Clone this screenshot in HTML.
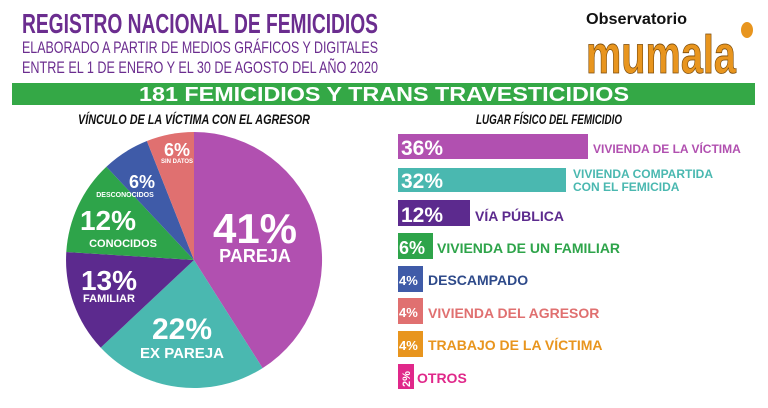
<!DOCTYPE html>
<html><head><meta charset="utf-8"><style>
body{margin:0;width:768px;height:403px;background:#fff;overflow:hidden;font-family:"Liberation Sans",sans-serif;}
</style></head><body>
<svg width="768" height="403" viewBox="0 0 768 403" xmlns="http://www.w3.org/2000/svg" font-family="Liberation Sans, sans-serif">
<text x="22" y="33" font-size="28" font-weight="bold" fill="#6b2d8f" textLength="356" lengthAdjust="spacingAndGlyphs">REGISTRO NACIONAL DE FEMICIDIOS</text>
<text x="22" y="53" font-size="17" fill="#6b2d8f" textLength="356" lengthAdjust="spacingAndGlyphs">ELABORADO A PARTIR DE MEDIOS GRÁFICOS Y DIGITALES</text>
<text x="22" y="73" font-size="17" fill="#6b2d8f" textLength="356" lengthAdjust="spacingAndGlyphs">ENTRE EL 1 DE ENERO Y EL 30 DE AGOSTO DEL AÑO 2020</text>
<text x="586" y="24" font-size="16" font-weight="bold" fill="#111" textLength="101" lengthAdjust="spacingAndGlyphs">Observatorio</text>
<text x="586" y="73" font-size="54" font-weight="bold" fill="#e8951e" stroke="#7a4a0a" stroke-width="0.8" textLength="150" lengthAdjust="spacingAndGlyphs">mumala</text>
<ellipse cx="747" cy="30" rx="6" ry="8" fill="#e8951e"/>
<rect x="12" y="83" width="743" height="22" fill="#34a846"/>
<text x="384" y="101" font-size="20" font-weight="bold" fill="#fff" text-anchor="middle" textLength="490" lengthAdjust="spacingAndGlyphs">181 FEMICIDIOS Y TRANS TRAVESTICIDIOS</text>
<text x="194" y="124" font-size="14" font-weight="bold" font-style="italic" fill="#111" text-anchor="middle" textLength="232" lengthAdjust="spacingAndGlyphs">VÍNCULO DE LA VÍCTIMA CON EL AGRESOR</text>
<text x="549" y="124" font-size="14" font-weight="bold" font-style="italic" fill="#111" text-anchor="middle" textLength="146" lengthAdjust="spacingAndGlyphs">LUGAR FÍSICO DEL FEMICIDIO</text>
<g>
<path d="M194 260 L194 132 A128 128 0 0 1 262.6 368.1Z" fill="#b150b0"/>
<path d="M194 260 L262.6 368.1 A128 128 0 0 1 100.7 347.6Z" fill="#4ab8b0"/>
<path d="M194 260 L100.7 347.6 A128 128 0 0 1 66.3 252Z" fill="#5c2a8e"/>
<path d="M194 260 L66.3 252 A128 128 0 0 1 106.4 166.7Z" fill="#2ea44a"/>
<path d="M194 260 L106.4 166.7 A128 128 0 0 1 146.9 141Z" fill="#3f5ba8"/>
<path d="M194 260 L146.9 141 A128 128 0 0 1 194 132Z" fill="#e07070"/>
</g>
<g fill="#fff" font-weight="bold" text-anchor="middle">
<text x="255" y="243" font-size="42">41%</text>
<text x="255" y="262" font-size="18">PAREJA</text>
<text x="182" y="339" font-size="30">22%</text>
<text x="182" y="358" font-size="15">EX PAREJA</text>
<text x="109" y="290" font-size="28">13%</text>
<text x="109" y="302" font-size="11">FAMILIAR</text>
<text x="108" y="230" font-size="28">12%</text>
<text x="123" y="247" font-size="11">CONOCIDOS</text>
<text x="142" y="188" font-size="18">6%</text>
<text x="125" y="197" font-size="7">DESCONOCIDOS</text>
<text x="177" y="156" font-size="18">6%</text>
<text x="177" y="163" font-size="6">SIN DATOS</text>
</g>
<g font-weight="bold">
<rect x="398" y="134" width="190" height="25" fill="#b150b0"/>
<text x="401" y="155" font-size="21" fill="#fff">36%</text>
<text x="593" y="153" font-size="12" fill="#b150b0">VIVIENDA DE LA VÍCTIMA</text>
<rect x="398" y="168" width="168" height="24" fill="#4ab8b0"/>
<text x="401" y="188" font-size="21" fill="#fff">32%</text>
<text x="573" y="178" font-size="12" fill="#4ab8b0">VIVIENDA COMPARTIDA</text>
<text x="573" y="191" font-size="12" fill="#4ab8b0">CON EL FEMICIDA</text>
<rect x="398" y="200" width="72" height="26" fill="#5c2a8e"/>
<text x="401" y="222" font-size="21" fill="#fff">12%</text>
<text x="475" y="221" font-size="14" fill="#5c2a8e">VÍA PÚBLICA</text>
<rect x="398" y="233" width="35" height="26" fill="#2ea44a"/>
<text x="399" y="254" font-size="18" fill="#fff">6%</text>
<text x="437" y="253" font-size="14" fill="#2ea44a">VIVIENDA DE UN FAMILIAR</text>
<rect x="398" y="266" width="25" height="26" fill="#3f5ba8"/>
<text x="399" y="285" font-size="13" fill="#fff">4%</text>
<text x="428" y="285" font-size="14" fill="#2e4a8a">DESCAMPADO</text>
<rect x="398" y="298" width="25" height="26" fill="#e07070"/>
<text x="399" y="317" font-size="13" fill="#fff">4%</text>
<text x="428" y="318" font-size="14" fill="#e07070">VIVIENDA DEL AGRESOR</text>
<rect x="398" y="331" width="25" height="26" fill="#e8951e"/>
<text x="399" y="350" font-size="13" fill="#fff">4%</text>
<text x="428" y="350" font-size="14" fill="#e8951e">TRABAJO DE LA VÍCTIMA</text>
<rect x="398" y="364" width="16" height="25" fill="#e0288a"/>
<text x="0" y="0" font-size="11" fill="#fff" transform="translate(410 387) rotate(-90)">2%</text>
<text x="417" y="383" font-size="14" fill="#e0288a">OTROS</text>
</g>
</svg>
</body></html>
